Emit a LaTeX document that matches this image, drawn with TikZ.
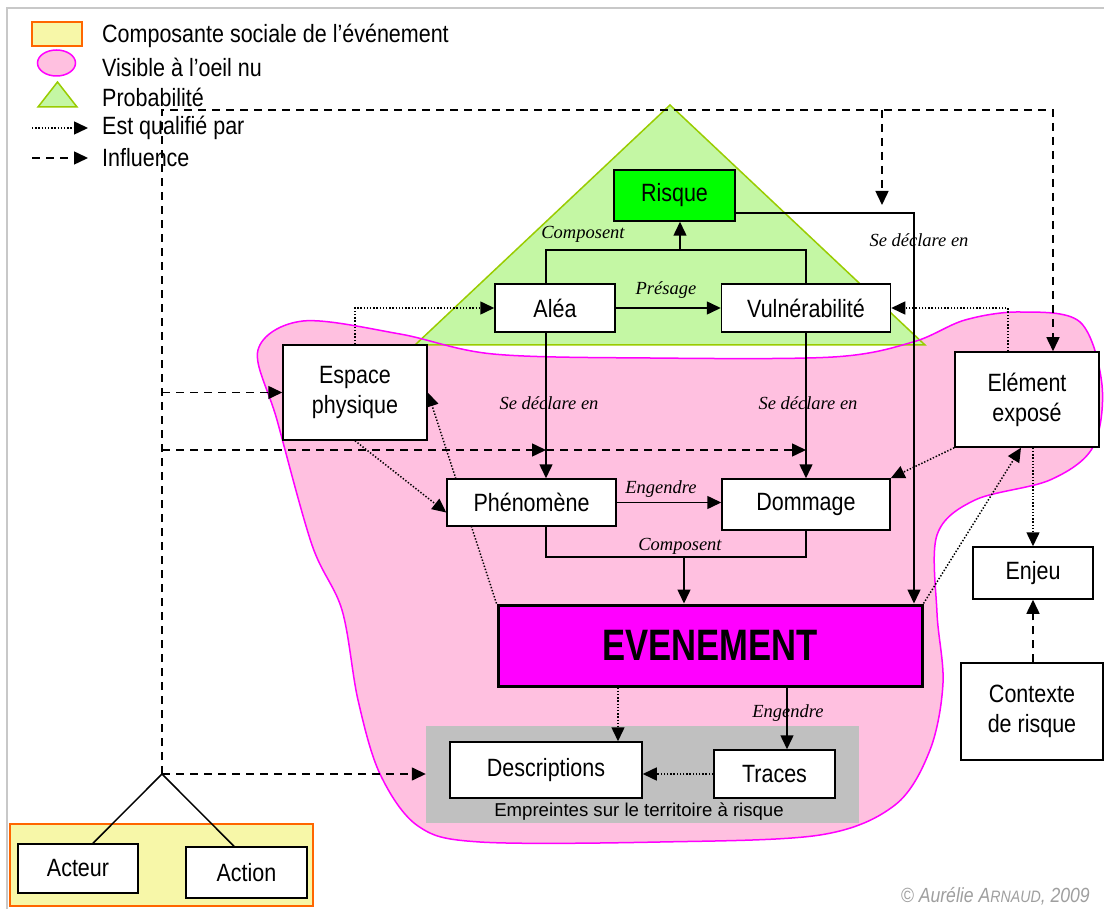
\documentclass[tikz,border=0pt]{standalone}
\usepackage{fontspec}
\setmainfont[FakeStretch=0.86]{Liberation Sans}
\newfontfamily\plainsf{Liberation Sans}
\newfontfamily\relserif{Liberation Serif}
\usetikzlibrary{arrows.meta}

\definecolor{blobfill}{HTML}{FFC0E0}
\definecolor{blobline}{HTML}{FF00FF}
\definecolor{probfill}{HTML}{C4F7A4}
\definecolor{probline}{HTML}{99CC00}
\definecolor{risquegreen}{HTML}{00FF00}
\definecolor{eventmag}{HTML}{FF00FF}
\definecolor{socialfill}{HTML}{F7F7A8}
\definecolor{socialline}{HTML}{FF6600}
\definecolor{printgray}{HTML}{C0C0C0}
\definecolor{framegray}{HTML}{C8C8C8}

\pgfdeclarelayer{back}
\pgfdeclarelayer{wires}
\pgfsetlayers{back,wires,main}

\tikzset{
  box/.style={draw, line width=1.5pt, fill=white, inner sep=0pt, align=center,
    font=\fontsize{25}{30}\selectfont},
  rel/.style={inner sep=0pt, font=\relserif\itshape\fontsize{18.5}{20}\selectfont},
  legend/.style={anchor=west, inner sep=0pt, font=\fontsize{25}{30}\selectfont},
  link/.style={line width=1.5pt},
  qualif/.style={line width=1.5pt, dash pattern=on 1.4pt off 1.8pt},
  influence/.style={line width=1.5pt, dash pattern=on 8pt off 6pt},
  arrowhd/.style={-{Triangle[length=14pt,width=13pt]}},
}

\begin{document}
\begin{tikzpicture}[x=1pt,y=-1pt]
  \useasboundingbox (0,0) rectangle (1104,909);

  % legend
  \fill[socialfill, draw=socialline, line width=1.5pt] (32,22) rectangle (82,46);
  \draw[blobline, fill=blobfill, line width=1.5pt] (56.5,63) ellipse [x radius=19pt, y radius=13pt];
  \draw[probline, fill=probfill, line width=1.5pt] (38,107) -- (77,107) -- (57.5,82) -- cycle;
  \coordinate (lgqa) at (32,128);  \coordinate (lgqb) at (88,128);
  \coordinate (lgia) at (32,158);  \coordinate (lgib) at (88,158);
  \draw[qualif,arrowhd] (lgqa) -- (lgqb);
  \draw[influence,arrowhd] (lgia) -- (lgib);
  \node[legend] (lgsocial) at (102,36) {Composante sociale de l’événement};
  \node[legend] (lgvisible) at (102,67) {Visible à l’oeil nu};
  \node[legend] (lgproba) at (102,97) {Probabilité};
  \node[legend] (lgqualif) at (102,128) {Est qualifié par};
  \node[legend] (lginfl) at (102,158) {Influence};

  % boxes
  \node[box, minimum width=121pt, minimum height=51pt, fill=risquegreen] (risque) at (674.5,195.5) {Risque};
  \node[box, minimum width=120pt, minimum height=48pt] (alea) at (555,308) {Aléa};
  \node[box, minimum width=169pt, minimum height=48pt] (vuln) at (806,308) {Vulnérabilité};
  \node[box, minimum width=144pt, minimum height=95pt] (espace) at (355,392.5) {Espace\\physique};
  \node[box, minimum width=144pt, minimum height=95pt] (expose) at (1027,399.5) {Elément\\exposé};
  \node[box, minimum width=169pt, minimum height=47pt] (pheno) at (531.5,502.5) {Phénomène};
  \node[box, minimum width=168pt, minimum height=51pt] (dommage) at (806,504.5) {Dommage};
  \node[box, line width=3pt, minimum width=424pt, minimum height=81pt, fill=eventmag,
    font=\bfseries\fontsize{44}{44}\selectfont] (event) at (710,645.5) {\scalebox{0.915}[1]{EVENEMENT}};
  \node[box, minimum width=120pt, minimum height=52pt] (enjeu) at (1033,573) {Enjeu};
  \node[box, minimum width=142pt, minimum height=97pt] (contexte) at (1032,711.5) {Contexte\\de risque};
  \node[box, minimum width=192pt, minimum height=56pt] (descr) at (546,770) {Descriptions};
  \node[box, minimum width=121pt, minimum height=48pt] (traces) at (774.5,774) {Traces};
  \node[box, minimum width=120pt, minimum height=49pt] (acteur) at (78,868.5) {Acteur};
  \node[box, minimum width=121pt, minimum height=51pt] (action) at (246.5,872.5) {Action};

  % relation labels
  \node[rel] (lblcompA) at (583,234) {Composent};
  \node[rel] (lblpres) at (666,290) {Présage};
  \node[rel] (lblsdA) at (549,403) {Se déclare en};
  \node[rel] (lblsdB) at (808,403) {Se déclare en};
  \node[rel] (lblsdC) at (919,240) {Se déclare en};
  \node[rel] (lblengA) at (661,489) {Engendre};
  \node[rel] (lblcompB) at (680,546) {Composent};
  \node[rel] (lblengB) at (788,713) {Engendre};
  \node[inner sep=0pt, font=\plainsf\fontsize{18.6}{20}\selectfont] (emprlbl) at (639,812)
    {Empreintes sur le territoire à risque};
  \node[anchor=east, inner sep=0pt, text=gray!75, font=\itshape\fontsize{20.5}{22}\selectfont] (copyr)
    at (1090,896) {© Aurélie A{\fontsize{16.5}{18}\selectfont RNAUD}, 2009};

  \begin{pgfonlayer}{back}
    \fill[white] (0,0) rectangle (1104,909);
    \draw[framegray, line width=2pt] (7,909) -- (7,8) -- (1104,8);
    % visible zone
    \path[save path=\blobpath] plot[smooth cycle, tension=0.55] coordinates {
      (303,321) (400,334) (493,354) (650,358) (833,357) (913,342) (965,320)
      (1020,312) (1080,322) (1102,385) (1093,447) (1050,480) (975,500) (937,535)
      (937,613) (943,683) (930,750) (895,805) (820,835) (660,842) (480,842)
      (418,826) (380,774) (358,700) (342,610) (312,545) (277,420) (258,350)};
    \path[use path=\blobpath, fill=blobfill];
    \draw[probline, fill=probfill, line width=1.5pt] (415,345) -- (925,345) -- (670,105) -- cycle;
    \path[use path=\blobpath, draw=blobline, line width=1.5pt];
    \fill[socialfill, draw=socialline, line width=1.5pt] (10,824) rectangle (313,906);
    \node[fill=printgray, minimum width=433pt, minimum height=97pt, inner sep=0pt] (empr) at (642.5,774.5) {};
  \end{pgfonlayer}

  \begin{pgfonlayer}{wires}
    \coordinate (sA) at (546,0);
    \coordinate (cA) at (680,250);
    \coordinate (cB) at (684,557);
    \coordinate (rk) at (914,213);
    \coordinate (eq) at (1008,0);
    \coordinate (dq) at (618,0);
    \coordinate (tq) at (787,0);
    \coordinate (hub) at (162,774);
    \coordinate (topR) at (1053,110);
    \coordinate (topM) at (882,110);
    \coordinate (topMend) at (882,205);
    \coordinate (lowI) at (0,450);
    \coordinate (acA) at (93,0);
    \coordinate (acB) at (234,0);

    % solid links
    \draw[link] (alea.north -| sA) |- (vuln.north |- cA) -- (vuln.north);
    \draw[link,arrowhd] (cA) -- (risque.south -| cA);
    \draw[link,arrowhd] (alea.east) -- (vuln.west);
    \draw[link,arrowhd] (alea.south -| sA) -- (pheno.north -| sA);
    \draw[link,arrowhd] (vuln.south) -- (dommage.north);
    \draw[link,arrowhd] (pheno.east) -- (dommage.west |- pheno.east);
    \draw[link] (pheno.south -| sA) |- (dommage.south |- cB) -- (dommage.south);
    \draw[link,arrowhd] (cB) -- (event.north -| cB);
    \draw[link,arrowhd] (risque.east |- rk) -| (event.north -| rk);
    \draw[link,arrowhd] (event.south -| tq) -- (traces.north -| tq);
    \draw[link] (acteur.north -| acA) -- (hub) -- (action.north -| acB);

    % qualified by
    \draw[qualif,arrowhd] (espace.north) |- (alea.west);
    \draw[qualif,arrowhd] (expose.north -| eq) |- (vuln.east);
    \draw[qualif,arrowhd] (expose.south west) -- (dommage.north east);
    \draw[qualif,arrowhd] (event.north east) -- ([xshift=-6pt]expose.south);
    \draw[qualif,arrowhd] (expose.south -| enjeu.north) -- (enjeu.north);
    \draw[qualif,arrowhd] (espace.south) -- ([yshift=-10pt]pheno.west);
    \draw[qualif,arrowhd] (event.north west) -- (espace.east);
    \draw[qualif,arrowhd] (event.south -| dq) -- (descr.north -| dq);
    \draw[qualif,arrowhd] (traces.west) -- (descr.east |- traces.west);

    % influence
    \draw[influence,arrowhd] (hub) |- (topR) -- (expose.north -| topR);
    \draw[influence,arrowhd] (topM) -- (topMend);
    \draw[influence,arrowhd] (hub |- espace.west) -- (espace.west);
    \draw[influence,arrowhd] (hub |- lowI) -- (sA |- lowI);
    \draw[influence,arrowhd] (sA |- lowI) -- (dommage.north |- lowI);
    \draw[influence,arrowhd] (hub) -- (empr.west |- hub);
    \draw[influence,arrowhd] (contexte.north -| enjeu.south) -- (enjeu.south);
  \end{pgfonlayer}
\end{tikzpicture}
\end{document}
